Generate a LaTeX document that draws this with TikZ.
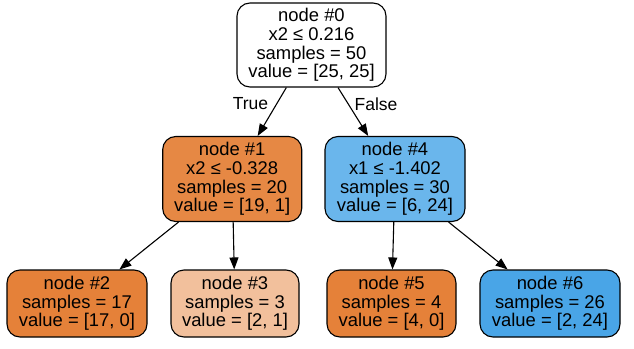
\documentclass[tikz,border=0pt]{standalone}
\usepackage{fontspec}
\setmainfont{Liberation Sans}
\usetikzlibrary{arrows.meta}
\definecolor{cOrange}{HTML}{E58139}
\definecolor{cOrangeA}{HTML}{E68844}
\definecolor{cOrangeL}{HTML}{F2C09C}
\definecolor{cBlueA}{HTML}{6AB6EC}
\definecolor{cBlue}{HTML}{49A5E7}
\tikzset{
  treenode/.style={draw=black, line width=1.1pt, rounded corners=13pt, align=center,
    font=\fontsize{18.4}{18.6}\selectfont, inner sep=0pt},
  edgearrow/.style={line width=1.1pt, -{Triangle[length=12pt,width=9pt]}},
  edgelabel/.style={font=\fontsize{17.5}{18}\selectfont, inner sep=0pt}
}
\begin{document}
\begin{tikzpicture}[x=1pt,y=-1pt]
\useasboundingbox (0,0) rectangle (634,348);
\node[treenode, fill=white, minimum width=149pt, minimum height=84pt] (n0) at (311.5,45)
  {node \#0\\x2 ≤ 0.216\\samples = 50\\value = [25, 25]};
\node[treenode, fill=cOrangeA, minimum width=139pt, minimum height=85pt] (n1) at (232.2,179)
  {node \#1\\x2 ≤ -0.328\\samples = 20\\value = [19, 1]};
\node[treenode, fill=cBlueA, minimum width=140pt, minimum height=85pt] (n4) at (395,179)
  {node \#4\\x1 ≤ -1.402\\samples = 30\\value = [6, 24]};
\node[treenode, fill=cOrange, minimum width=140pt, minimum height=67pt] (n2) at (77,303.5)
  {node \#2\\samples = 17\\value = [17, 0]};
\node[treenode, fill=cOrangeL, minimum width=128pt, minimum height=67pt] (n3) at (235,303.5)
  {node \#3\\samples = 3\\value = [2, 1]};
\node[treenode, fill=cOrange, minimum width=129pt, minimum height=67pt] (n5) at (391.5,303.5)
  {node \#5\\samples = 4\\value = [4, 0]};
\node[treenode, fill=cBlue, minimum width=140pt, minimum height=67pt] (n6) at (550,303.5)
  {node \#6\\samples = 26\\value = [2, 24]};
\draw[edgearrow] (n0) -- (n1);
\draw[edgearrow] (n0) -- (n4);
\draw[edgearrow] (n1) -- (n2);
\draw[edgearrow] (n1) -- (n3);
\draw[edgearrow] (n4) -- (n5);
\draw[edgearrow] (n4) -- (n6);
\node[edgelabel] (lt) at (250.5,104) {True};
\node[edgelabel] (lf) at (376,104) {False};
\end{tikzpicture}
\end{document}
